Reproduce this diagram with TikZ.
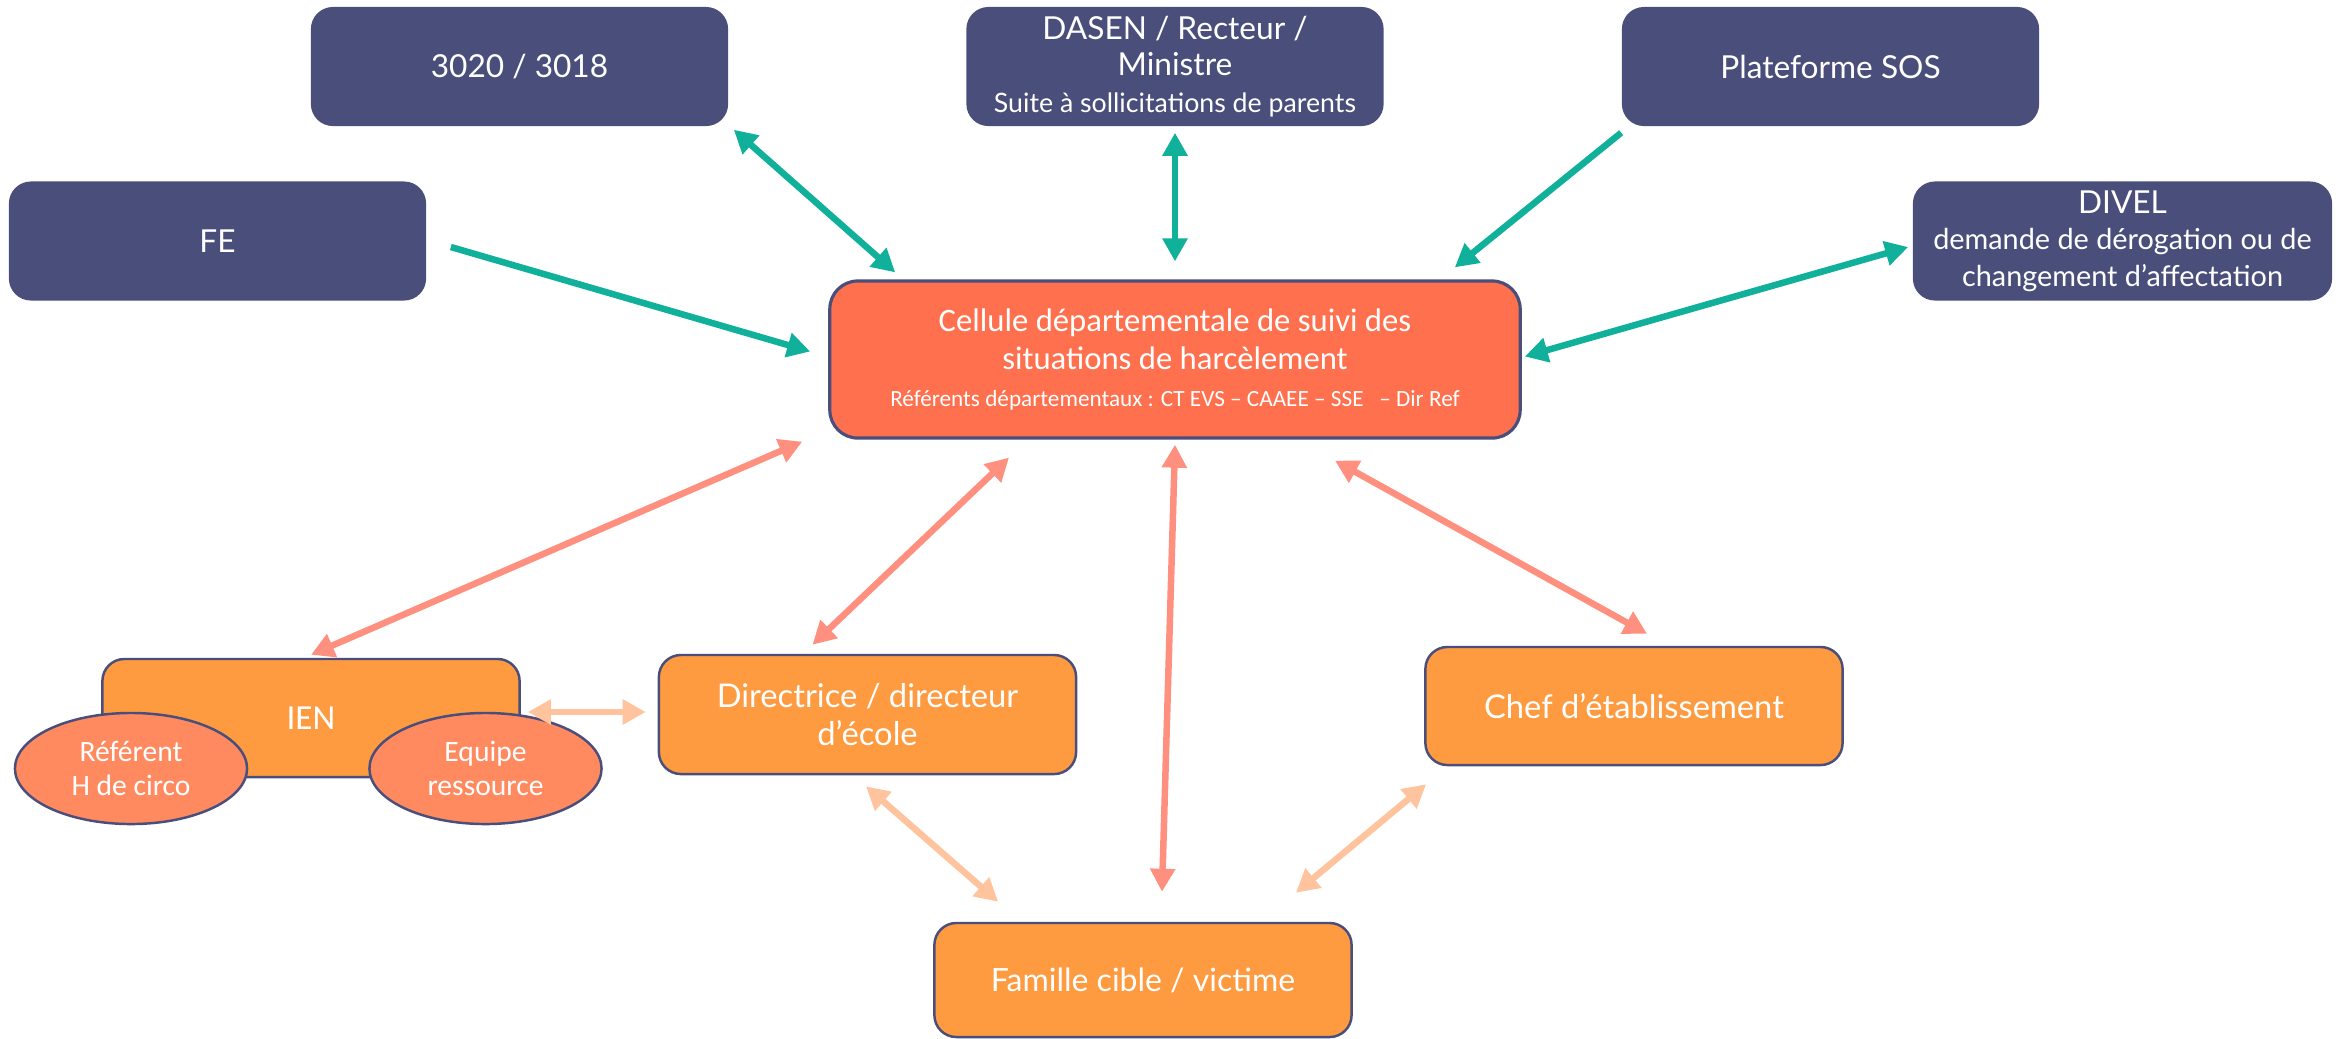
\documentclass[tikz,border=0pt]{standalone}
\usepackage{fontspec}
\setmainfont{Lato}
\newfontfamily\calfont{Carlito}
\usetikzlibrary{arrows.meta,shapes.geometric}

\definecolor{navy}{HTML}{4A4E7B}
\definecolor{cellred}{HTML}{FF704E}
\definecolor{boxorange}{HTML}{FE9A40}
\definecolor{bubbleorange}{HTML}{FF8A60}
\definecolor{tealline}{HTML}{10B09A}
\definecolor{salmonline}{HTML}{FF8F7E}
\definecolor{peachline}{HTML}{FFC39E}

\begin{document}
\begin{tikzpicture}[x=0.01cm,y=-0.01cm,
	darkbox/.style={fill=navy,rounded corners=0.22cm,minimum width=4.17cm,minimum height=1.19cm,inner ysep=1pt,
		text=white,align=center,font=\fontsize{9}{10.4}\selectfont},
	orangebox/.style={draw=navy,line width=0.7pt,fill=boxorange,rounded corners=0.22cm,
		minimum width=4.17cm,minimum height=1.18cm,text=white,align=center,font=\fontsize{9.3}{11}\selectfont},
	bubble/.style={ellipse,draw=navy,line width=0.7pt,fill=bubbleorange,minimum width=2.32cm,
		minimum height=1.11cm,inner sep=0pt,text=white,align=center,font=\calfont\fontsize{8.4}{9.8}\selectfont},
	tealone/.style={draw=tealline,line width=1.85pt,-{Triangle[length=0.23cm,width=0.24cm]}},
	tealtwo/.style={draw=tealline,line width=1.85pt,{Triangle[length=0.23cm,width=0.24cm]}-{Triangle[length=0.23cm,width=0.24cm]}},
	salmontwo/.style={draw=salmonline,line width=1.85pt,{Triangle[length=0.23cm,width=0.24cm]}-{Triangle[length=0.23cm,width=0.24cm]}},
	peachtwo/.style={draw=peachline,line width=1.85pt,{Triangle[length=0.23cm,width=0.24cm]}-{Triangle[length=0.23cm,width=0.24cm]}}
]

	\useasboundingbox (0,0) rectangle (2344,1038);

	% upper row
	\node[darkbox] (numero) at (519.5,66.5) {3020 / 3018};
	\node[darkbox] (dasen) at (1175,66.5) {DASEN / Recteur /\\Ministre\\{\fontsize{7.6}{8.6}\selectfont Suite à sollicitations de parents}};
	\node[darkbox] (sos) at (1830.5,66.5) {Plateforme SOS};
	\node[darkbox] (fe) at (217.5,241) {FE};
	\node[darkbox,minimum width=4.19cm] (divel) at (2122.5,241) {DIVEL\\{\fontsize{8.2}{9.2}\selectfont demande de dérogation ou de}\\{\fontsize{8.2}{9.2}\selectfont changement d’affectation}};

	\node[draw=navy,line width=0.9pt,fill=cellred,rounded corners=0.28cm,minimum width=6.9cm,minimum height=1.57cm,
		text=white,align=center,font=\calfont\fontsize{9.3}{10.6}\selectfont] (cellule) at (1175,359.5)
		{Cellule départementale de suivi des\\situations de harcèlement\\{\fontsize{6.6}{7.8}\selectfont Référents départementaux : CT EVS – CAAEE – SSE \ \ – Dir Ref}};

	% lower row
	\node[orangebox,font=\calfont\fontsize{10}{12}\selectfont] (ien) at (311,718) {IEN};
	\node[bubble] (referent) at (131,768.5) {Référent\\H de circo};
	\node[bubble] (equipe) at (485.5,768.5) {Equipe\\ressource};
	\node[orangebox,minimum height=1.19cm] (directeur) at (867.5,714.5) {Directrice / directeur\\d’école};
	\node[orangebox] (chef) at (1634,706) {Chef d’établissement};
	\node[orangebox,minimum height=1.14cm,font=\fontsize{9.1}{11}\selectfont] (famille) at (1143,980) {Famille cible / victime};

	% arrows to the cellule
	\draw[tealtwo] ([shift={(5,3)}]numero.south east) -- ([shift={(67,-7)}]cellule.north west);
	\draw[tealtwo] ([shift={(0,6)}]dasen.south) -- ([shift={(0,-18)}]cellule.north);
	\draw[tealone] ([shift={(0,6)}]sos.south west) -- ([shift={(-67,-12)}]cellule.north east);
	\draw[tealone] ([shift={(24,6)}]fe.east) -- ([shift={(-18,-8)}]cellule.west);
	\draw[tealtwo] ([shift={(-4,6)}]divel.west) -- ([shift={(3,-3)}]cellule.east);

	\draw[salmontwo] ([shift={(-26,2)}]cellule.south west) -- ([shift={(0,-3)}]ien.north);
	\draw[salmontwo] ([shift={(-166,18)}]cellule.south) -- ([shift={(-55,-9)}]directeur.north);
	\draw[salmontwo] ([shift={(0,5)}]cellule.south) -- ([shift={(19,-30)}]famille.north);
	\draw[salmontwo] ([shift={(160,21)}]cellule.south) -- ([shift={(13,-12)}]chef.north);

	% between the partners
	\draw[peachtwo] ([shift={(7,-6)}]ien.east) -- ([shift={(-12,-2.5)}]directeur.west);
	\draw[peachtwo] ([shift={(-1.5,11)}]directeur.south) -- ([shift={(65,-20)}]famille.north west);
	\draw[peachtwo] ([shift={(2,18)}]chef.south west) -- ([shift={(-57,-29)}]famille.north east);

\end{tikzpicture}
\end{document}
